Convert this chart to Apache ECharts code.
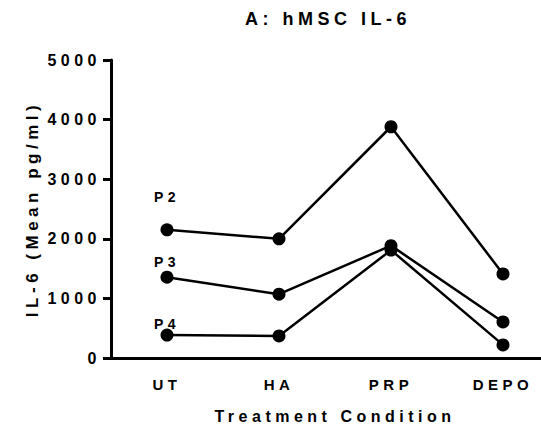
<!DOCTYPE html>
<html>
<head>
<meta charset="utf-8">
<script src="https://cdn.jsdelivr.net/npm/echarts@6/dist/echarts.min.js"></script>
<style>
    html, body { margin: 0; padding: 0; background: #fff; }
    #chart { width: 541px; height: 429px; }
    /* Prism-style spaced lettering */
    #chart text { letter-spacing: 4.5px; }
</style>
</head>
<body>
<div id="chart"></div>
<script>
// values
var categories = ['UT', 'HA', 'PRP', 'DEPO']
var p2 = [2150, 2000, 3880, 1410]
var p3 = [1355, 1070, 1885, 605]
var p4 = [385, 370, 1810, 220]
var seriesNames = ['P2', 'P3', 'P4']
var yTicks = [0, 1000, 2000, 3000, 4000, 5000]

var font = 'Liberation Sans, Arial, sans-serif'

var makeSeries = function (name, values, labelDy) {
    return {
        name: name,
        type: 'line',
        data: values.map(function (v, i) {
            if (i !== 0) return v
            return {
                value: v,
                label: {
                    show: true,
                    position: 'top',
                    distance: 0,
                    offset: [0, labelDy],
                    formatter: name,
                    color: '#000',
                    fontSize: 14,
                    fontWeight: 'bold',
                    fontFamily: font
                }
            }
        }),
        symbol: 'circle',
        symbolSize: 13,
        itemStyle: { color: '#000' },
        lineStyle: { color: '#000', width: 2.5 },
        emphasis: { disabled: true },
        z: 3
    }
}

var myChart = echarts.init(document.getElementById('chart'), null, { renderer: 'svg' })
var options = {
    backgroundColor: '#fff',
    animation: false,
    title: {
        text: 'A: hMSC IL-6',
        left: 323,
        top: 5,
        textAlign: 'center',
        textStyle: { fontSize: 18, fontWeight: 'bold', color: '#000', fontFamily: font }
    },
    // plot runs past the right edge, as in the original export
    grid: { left: 111, top: 60, width: 448, height: 298, outerBoundsMode: 'none', containLabel: false },
    xAxis: {
        type: 'category',
        data: categories,
        boundaryGap: true,
        name: 'Treatment Condition',
        nameLocation: 'middle',
        nameGap: 50,
        nameTextStyle: { fontSize: 16, fontWeight: 'bold', color: '#000', fontFamily: font },
        axisLine: { lineStyle: { color: '#000', width: 3 } },
        axisTick: { alignWithLabel: true, length: 8, lineStyle: { color: '#000', width: 3 } },
        axisLabel: { margin: 19, fontSize: 15, fontWeight: 'bold', color: '#000', fontFamily: font },
        splitLine: { show: false }
    },
    yAxis: {
        type: 'value',
        min: yTicks[0],
        max: yTicks[yTicks.length - 1],
        interval: 1000,
        name: 'IL-6 (Mean pg/ml)',
        nameLocation: 'middle',
        nameGap: 70,
        nameTextStyle: { fontSize: 17, fontWeight: 'bold', color: '#000', fontFamily: font },
        axisLine: { show: true, lineStyle: { color: '#000', width: 3 } },
        axisTick: { show: true, length: 8, lineStyle: { color: '#000', width: 3 } },
        axisLabel: {
            margin: 10,
            fontSize: 16,
            fontWeight: 'bold',
            color: '#000',
            fontFamily: font,
            formatter: function (v) { return String(v) }
        },
        splitLine: { show: false }
    },
    series: [
        makeSeries(seriesNames[0], p2, -19),
        makeSeries(seriesNames[1], p3, -2),
        makeSeries(seriesNames[2], p4, 2)
    ]
}
myChart.setOption(options)
</script>
</body>
</html>
